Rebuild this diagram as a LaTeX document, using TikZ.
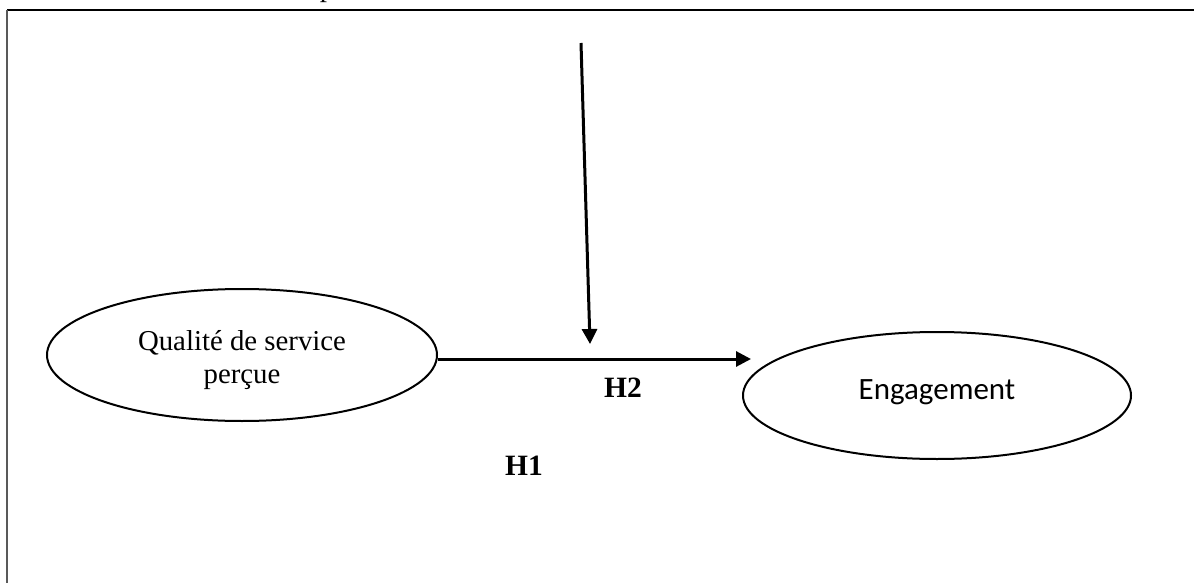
\documentclass[tikz,border=0pt]{standalone}
\usepackage{fontspec}
\setmainfont{Liberation Serif}
\newfontfamily\calfont{Carlito}
\usetikzlibrary{shapes.geometric,arrows.meta}
\tikzset{
  construct/.style={draw=black, ellipse, line width=2pt, inner sep=0pt, align=center},
  hyplabel/.style={font=\fontsize{29.5}{33}\selectfont\bfseries, inner sep=0pt, anchor=base},
  path arrow/.style={line width=3pt, -{Triangle[length=15pt,width=15pt]}},
}
\begin{document}
\begin{tikzpicture}[x=1pt,y=-1pt]
\useasboundingbox (0,0) rectangle (1194,583);
% frame
\draw[line width=2pt, black] (7,10) -- (1194,10);
\draw[line width=2pt, black!65] (7,10) -- (7,583);
% cut-off text at the top
\node[font=\fontsize{29}{33}\selectfont, inner sep=0pt, anchor=base] (ptxt) at (327,-3) {p};
% constructs
\node[construct, minimum width=390pt, minimum height=132pt,
      font=\fontsize{28.8}{33}\selectfont] (qual) at (242,355)
      {\raisebox{-5pt}[\height][\depth]{\begin{tabular}{@{}c@{}}Qualité de service\\perçue\end{tabular}}};
\node[construct, minimum width=388pt, minimum height=127pt,
      font=\calfont\fontsize{31}{36}\selectfont] (eng) at (937,395.5)
      {\raisebox{3pt}[\height][\depth]{Engagement}};
% connectors
\coordinate (htip) at (751,359);
\coordinate (vtop) at (581,43);
\coordinate (vtip) at (590,344);
\draw[path arrow] (qual.east |- htip) -- (htip);
\draw[path arrow] (vtop) -- (vtip);
% labels
\node[hyplabel] (h2) at (623,397) {H2};
\node[hyplabel] (h1) at (524,475) {H1};
\end{tikzpicture}
\end{document}
